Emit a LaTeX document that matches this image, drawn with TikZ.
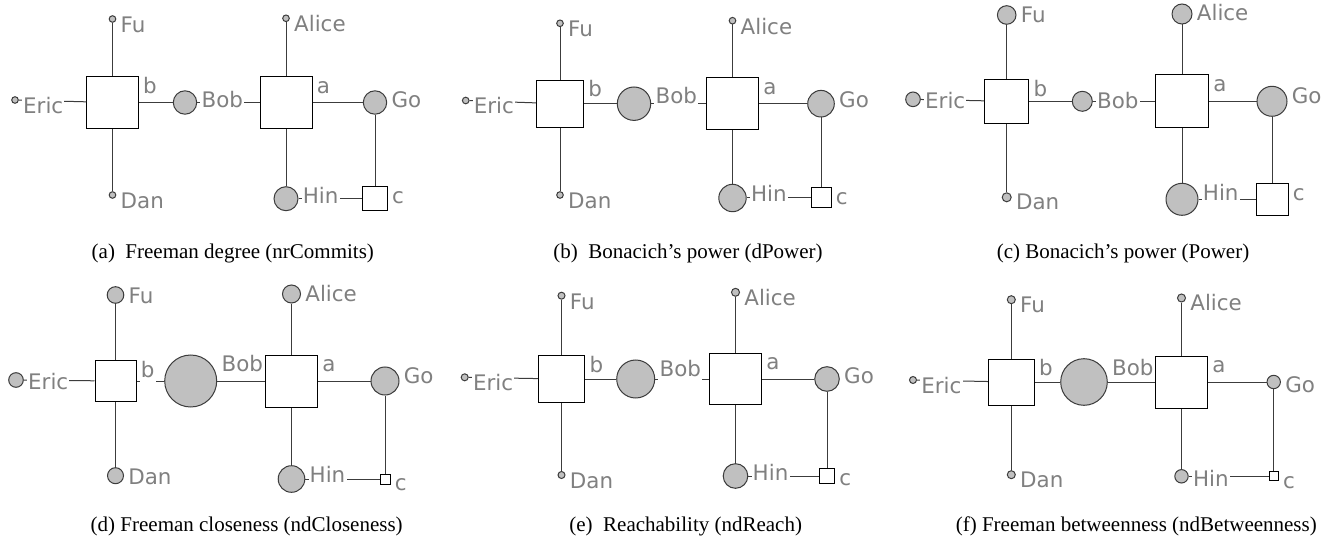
\documentclass[tikz,border=0pt]{standalone}
\usepackage{fontspec}
\setmainfont{Liberation Serif}
\newfontfamily\labfont{DejaVu Sans}
\usetikzlibrary{calc}
\definecolor{nodegray}{RGB}{192,192,192}
\definecolor{labgray}{RGB}{128,128,128}
\definecolor{edgegray}{RGB}{60,60,60}
\tikzset{
  circ/.style={circle, draw=edgegray, line width=1pt, fill=nodegray, inner sep=0pt, minimum size=#1},
  sq/.style={rectangle, draw=black, line width=1pt, fill=white, inner sep=0pt, minimum size=#1},
  lab/.style={anchor=north west, text=labgray, fill=white, inner xsep=1.2pt, inner ysep=0pt,
              text height=15.6pt, text depth=4.6pt, font=\labfont\fontsize{21.4}{24}\selectfont},
  wire/.style={draw=edgegray, line width=1pt},
  captxt/.style={anchor=base, font=\fontsize{21}{25}\selectfont}
}
\newcommand\panelwires[1]{%
  \draw[wire] (#1Fu) -- (#1b);
  \draw[wire] (#1Dan) -- (#1b);
  \draw[wire] (#1Eric) -- (#1b);
  \draw[wire] (#1b) -- (#1Bob);
  \draw[wire] (#1Bob) -- (#1a);
  \draw[wire] (#1Alice) -- (#1a);
  \draw[wire] (#1a) -- (#1Go);
  \draw[wire] (#1a) -- (#1Hin);
  \draw[wire] (#1Go) -- (#1c);
  \draw[wire] (#1Hin) -- (#1c);
  \node[lab] (#1FuL) at ($(#1Fu.east |- #1Fu.north)+(3,1.5)$) {Fu};
  \node[lab] (#1DanL) at ($(#1Dan.east |- #1Dan.north)+(3,1.5)$) {Dan};
  \node[lab] (#1EricL) at ($(#1Eric.east |- #1Eric.north)+(3,1.5)$) {Eric};
  \node[lab] (#1BobL) at ($(#1Bob.east |- #1Bob.north)+(3,1.5)$) {Bob};
  \node[lab] (#1AliceL) at ($(#1Alice.east |- #1Alice.north)+(3,1.5)$) {Alice};
  \node[lab] (#1GoL) at ($(#1Go.east |- #1Go.north)+(3,1.5)$) {Go};
  \node[lab] (#1HinL) at ($(#1Hin.east |- #1Hin.north)+(3,1.5)$) {Hin};
  \node[lab] (#1bL) at ($(#1b.north east)+(3,1.5)$) {b};
  \node[lab] (#1aL) at ($(#1a.north east)+(3,1.5)$) {a};
  \node[lab] (#1cL) at ($(#1c.north east)+(3,1.5)$) {c};
}
\begin{document}
\begin{tikzpicture}[x=1pt,y=-1pt]
\useasboundingbox[fill=white] (0,0) rectangle (1331,548);

% ---------- panel (a)
\node[sq=51.5] (Ab) at (112.5,102.5) {};
\node[sq=52] (Aa) at (286,102.5) {};
\node[sq=24.5] (Ac) at (375,198.7) {};
\node[circ=6.6] (AFu) at (112.5,19) {};
\node[circ=6.6] (ADan) at (112.5,195) {};
\node[circ=6.6] (AEric) at (15,100) {};
\node[circ=23.4] (ABob) at (185,102.5) {};
\node[circ=6.6] (AAlice) at (286,18.3) {};
\node[circ=23.4] (AGo) at (375,102.5) {};
\node[circ=24] (AHin) at (286,198.7) {};
\panelwires{A}
\node[captxt] (Acap) at (232.8,258.5) {(a)\ \ Freeman degree (nrCommits)};

% ---------- panel (b)
\node[sq=47] (Bb) at (560,103.7) {};
\node[sq=52] (Ba) at (732.5,103.7) {};
\node[sq=20] (Bc) at (821,198) {};
\node[circ=6.6] (BFu) at (560,23.3) {};
\node[circ=6.6] (BDan) at (560,195) {};
\node[circ=6.6] (BEric) at (465.7,100.5) {};
\node[circ=33.4] (BBob) at (634,103.7) {};
\node[circ=6.6] (BAlice) at (732.5,20.7) {};
\node[circ=26.6] (BGo) at (821,103.7) {};
\node[circ=27.4] (BHin) at (732.5,198) {};
\panelwires{B}
\node[captxt] (Bcap) at (688,258.5) {(b)\ \ Bonacich’s power (dPower)};

% ---------- panel (c)
\node[sq=44] (Cb) at (1006.7,101.3) {};
\node[sq=53] (Ca) at (1182,101.3) {};
\node[sq=32] (Cc) at (1272,199.3) {};
\node[circ=18.6] (CFu) at (1006.7,15) {};
\node[circ=9] (CDan) at (1006.7,197.3) {};
\node[circ=14.6] (CEric) at (913,99.3) {};
\node[circ=20] (CBob) at (1082.3,101.3) {};
\node[circ=20] (CAlice) at (1182,14) {};
\node[circ=30] (CGo) at (1272,101.3) {};
\node[circ=32] (CHin) at (1182,199.3) {};
\panelwires{C}
\node[captxt] (Ccap) at (1123,258.5) {(c) Bonacich’s power (Power)};

% ---------- panel (d)
\node[sq=41] (Db) at (115.5,381) {};
\node[sq=52] (Da) at (291.5,381) {};
\node[sq=10] (Dc) at (385,479) {};
\node[circ=16.6] (DFu) at (115.5,295) {};
\node[circ=16] (DDan) at (115.5,475.7) {};
\node[circ=14.6] (DEric) at (16,380) {};
\node[circ=52] (DBob) at (190.7,381) {};
\node[circ=18] (DAlice) at (291.5,294) {};
\node[circ=28] (DGo) at (385,381) {};
\node[circ=26.6] (DHin) at (291.5,479) {};
\panelwires{D}
\node[captxt] (Dcap) at (246.7,531.5) {(d) Freeman closeness (ndCloseness)};

% ---------- panel (e)
\node[sq=46.5] (Eb) at (561.5,379) {};
\node[sq=51.7] (Ea) at (735.5,379) {};
\node[sq=15] (Ec) at (827,476) {};
\node[circ=7] (EFu) at (561.5,295.7) {};
\node[circ=7] (EDan) at (561.5,475) {};
\node[circ=7] (EEric) at (464.7,377.3) {};
\node[circ=38] (EBob) at (635.7,379) {};
\node[circ=8] (EAlice) at (735.5,292.3) {};
\node[circ=24.6] (EGo) at (827,379) {};
\node[circ=24.6] (EHin) at (735.5,476) {};
\panelwires{E}
\node[captxt] (Ecap) at (685.7,531.5) {(e)\ \ Reachability (ndReach)};

% ---------- panel (f)
\node[sq=46] (Fb) at (1011.3,382) {};
\node[sq=52] (Fa) at (1181.5,382) {};
\node[sq=9] (Fc) at (1273.7,476.3) {};
\node[circ=8] (FFu) at (1011.3,299.7) {};
\node[circ=8] (FDan) at (1011.3,474.7) {};
\node[circ=7] (FEric) at (913,380) {};
\node[circ=46.6] (FBob) at (1084,382) {};
\node[circ=8] (FAlice) at (1181.5,298) {};
\node[circ=13.4] (FGo) at (1273.7,382) {};
\node[circ=13.4] (FHin) at (1181.5,476.3) {};
\panelwires{F}
\node[captxt] (Fcap) at (1136.3,531.5) {(f) Freeman betweenness (ndBetweenness)};
\end{tikzpicture}
\end{document}
